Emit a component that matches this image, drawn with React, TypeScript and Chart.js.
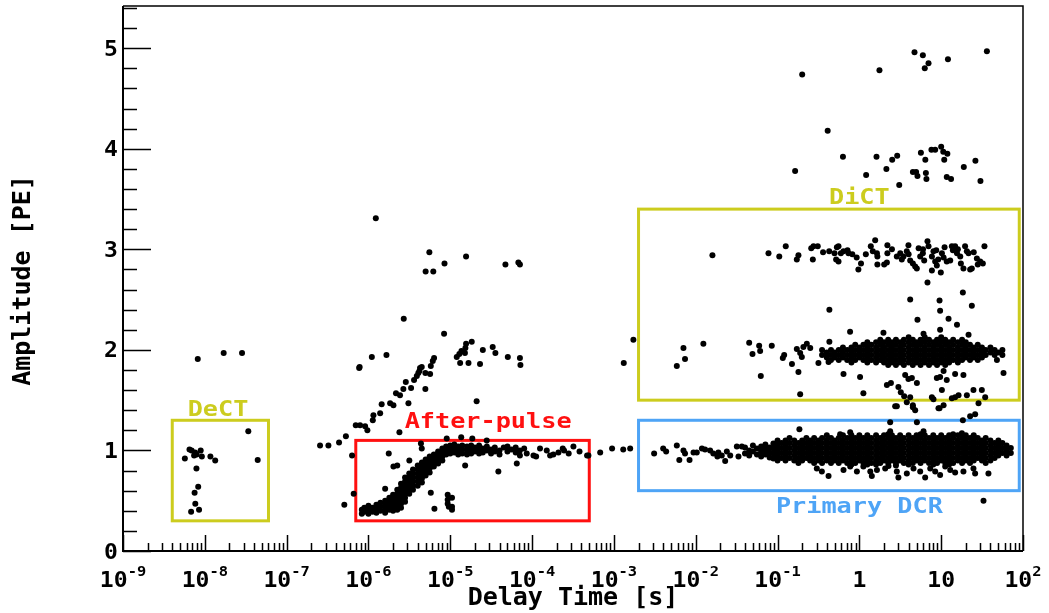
import { useEffect, useRef } from "react";
import { Chart, registerables } from "chart.js";

Chart.register(...registerables);

type Pt = [number, number];
type Column = [number, number[]];

// ---------- axes ----------
const X_MIN = 1e-9;
const X_MAX = 100;
const Y_MIN = 0;
const Y_MAX = 5.42;

const xMajorTicks = [1e-9, 1e-8, 1e-7, 1e-6, 1e-5, 1e-4, 1e-3, 1e-2, 1e-1, 1, 10, 100];
const xTickBase = ["10", "10", "10", "10", "10", "10", "10", "10", "10", "1", "10", "10"];
const xTickExp = ["-9", "-8", "-7", "-6", "-5", "-4", "-3", "-2", "-1", "", "", "2"];
const xMinorMantissas = [2, 3, 4, 5, 6, 7, 8, 9];
const yMajorTicks = [0, 1, 2, 3, 4, 5];
const yMinorStep = 0.2;

const xTitle = "Delay Time [s]";
const yTitle = "Amplitude [PE]";

// ---------- regions ----------
const regionNames = ["DeCT", "After-pulse", "DiCT", "Primary DCR"];
const regionXMin = [4e-9, 7e-7, 2e-3, 2e-3];
const regionXMax = [6e-8, 5e-4, 90, 90];
const regionYMin = [0.3, 0.3, 1.5, 0.6];
const regionYMax = [1.3, 1.1, 3.4, 1.3];
const regionLabelX = [1.45e-8, 2.9e-5, 1.0, 1.0];
const regionLabelY = [1.34, 1.22, 3.45, 0.38];
const regionColors = ["#cccc1e", "#ff1010", "#cccc1e", "#4ea4f6"];

// ---------- events: isolated points ----------
const deCtPoints: Pt[] = [
  [8.2e-9, 1.91], [1.7e-8, 1.97], [2.85e-8, 1.97], [3.4e-8, 1.19],
  [6.5e-9, 1.01], [6.9e-9, 1.0], [7.6e-9, 0.98], [7.4e-9, 0.95], [8.9e-9, 1.0],
  [9.2e-9, 0.94], [7.95e-9, 0.96], [5.7e-9, 0.92], [1.17e-8, 0.94], [1.34e-8, 0.9],
  [4.43e-8, 0.905], [7.9e-9, 0.82], [8.3e-9, 0.64], [7.5e-9, 0.58], [7.65e-9, 0.47],
  [6.8e-9, 0.39], [8.5e-9, 0.41],
];

const afterPulseScatter: Pt[] = [
  [2.56e-7, 1.05], [3.24e-7, 1.05], [4.37e-7, 1.08], [5.3e-7, 1.14], [6.3e-7, 0.95],
  [6.6e-7, 0.57], [5.07e-7, 0.46], [7e-7, 1.25], [7.7e-7, 1.82],
  [1.23e-6, 3.31], [5.55e-6, 2.97], [8.5e-6, 2.86], [1.56e-5, 2.93], [5.0e-6, 2.78],
  [6.2e-6, 2.78], [4.72e-5, 2.85], [6.8e-5, 2.87], [7.1e-5, 2.85], [2.7e-6, 2.31],
  [8.4e-6, 2.16], [1.1e-6, 1.93], [1.66e-6, 1.95], [7.8e-7, 1.83],
  [1.56e-5, 2.06], [1.83e-5, 2.08], [1.53e-5, 2.02], [1.37e-5, 1.99], [1.29e-5, 1.96],
  [1.2e-5, 1.93], [1.32e-5, 1.87], [1.67e-5, 1.87], [2.31e-5, 1.86], [2.5e-5, 2.0],
  [3.3e-5, 2.03], [3.56e-5, 1.97], [5.05e-5, 1.93], [7.1e-5, 1.92], [7.2e-5, 1.85],
  [1.51e-5, 1.97],
  [7.9e-7, 1.25], [9.1e-7, 1.24], [9.7e-7, 1.2], [1.13e-6, 1.3], [1.15e-6, 1.35],
  [1.39e-6, 1.37], [1.45e-6, 1.46], [1.84e-6, 1.47], [2.02e-6, 1.45], [2.17e-6, 1.57],
  [2.43e-6, 1.55], [2.67e-6, 1.61], [2.86e-6, 1.68], [3.08e-6, 1.47], [3.32e-6, 1.62],
  [3.61e-6, 1.7], [4.07e-6, 1.77], [4.27e-6, 1.82], [4.48e-6, 1.83], [4.96e-6, 1.77],
  [4.96e-6, 1.61], [5.67e-6, 1.76], [5.78e-6, 1.84], [6.11e-6, 1.89], [6.34e-6, 1.92],
  [4.2e-6, 1.79], [3.9e-6, 1.74], [2.1e-5, 1.49],
  [2.39e-6, 1.18], [4.38e-6, 1.07], [4.48e-6, 1.02], [9.05e-6, 1.12], [1.36e-5, 1.13],
  [1.86e-5, 1.12], [2.79e-5, 1.1], [1.77e-6, 0.97], [3.16e-6, 0.9], [2.02e-6, 0.84],
  [2.25e-6, 0.85], [1.6e-6, 0.62], [5.78e-6, 0.58], [6.4e-6, 0.42],
  [9.3e-6, 0.56], [9.3e-6, 0.51], [9.3e-6, 0.47], [1.05e-5, 0.44], [1.05e-5, 0.41],
  [1.05e-5, 0.53], [9.6e-6, 0.44],
  [3.87e-5, 0.79], [6.5e-5, 0.87], [1.52e-5, 0.85],
  [8.6e-5, 0.97], [1.04e-4, 0.95], [1.25e-4, 1.02], [1.51e-4, 1.0], [1.82e-4, 0.96],
  [2.37e-4, 1.02], [2.46e-4, 1.0], [3.2e-4, 1.04], [1.12e-4, 0.94], [1.66e-4, 0.95],
  [4.7e-4, 0.95], [2.8e-4, 0.97], [3.8e-4, 0.99], [2.1e-4, 0.98], [4.88e-4, 0.95],
  [6.8e-4, 0.98], [9.5e-4, 1.02], [1.3e-3, 1.01], [1.32e-3, 1.87], [1.73e-3, 2.1],
];

const highAmplitudePoints: Pt[] = [
  [4.72, 4.96], [5.97, 4.93], [7.0, 4.85], [6.3, 4.8], [12.1, 4.89], [36.2, 4.97],
  [0.2, 4.74], [1.76, 4.78], [0.41, 4.18], [0.164, 3.78], [0.63, 3.92], [1.62, 3.92],
  [2.52, 3.89], [2.9, 3.93], [2.14, 3.8], [1.21, 3.74], [3.07, 3.64], [4.51, 3.77],
  [4.94, 3.77], [5.13, 3.73], [5.65, 3.96], [6.4, 3.89], [6.5, 3.76], [6.6, 3.7],
  [7.6, 3.99], [8.45, 3.99], [10, 4.02], [10.6, 3.97], [11.9, 3.95], [10.9, 3.89],
  [11.7, 3.72], [13.2, 3.7], [18.9, 3.82], [26.2, 3.88], [30.2, 3.68],
];

const threePeRow: Pt[] = [
  [0.016, 2.94], [0.0775, 2.96], [0.105, 2.93], [0.126, 3.03], [0.172, 2.9], [0.18, 2.94],
  [0.258, 3.01], [0.275, 3.03], [0.31, 3.03], [0.27, 2.9], [0.428, 2.98], [0.497, 2.96],
  [0.531, 3.02], [0.556, 3.03], [0.594, 2.96], [0.64, 2.98], [0.716, 2.99], [0.736, 2.96],
  [0.52, 2.9], [0.556, 2.88], [0.927, 2.92], [1.047, 2.86], [0.973, 2.8], [1.38, 3.03],
  [1.56, 3.09], [1.46, 2.98], [1.64, 2.96], [1.66, 2.93], [1.66, 2.85], [2.01, 2.85],
  [2.17, 2.87], [2.2, 2.96], [2.2, 3.04], [2.87, 2.93], [3.16, 2.96], [3.46, 2.93],
  [3.98, 3.04], [3.8, 2.98], [4.18, 2.89], [4.51, 2.86], [4.81, 2.83], [5.04, 2.81],
  [5.54, 2.93], [5.97, 2.96], [6.2, 2.89], [6.8, 3.08], [7.0, 3.03], [7.7, 2.93],
  [8.05, 2.98], [8.7, 2.99], [8.45, 2.88], [8.85, 2.84], [7.7, 2.79], [9.9, 2.77],
  [10.2, 2.96], [10.7, 2.92], [11.7, 2.88], [13.5, 3.03], [14.8, 3.03], [15.6, 2.96],
  [17.1, 2.93], [17.4, 2.86], [18.7, 2.81], [20.6, 2.98], [21.6, 2.96], [22.6, 2.8],
  [23.7, 2.81], [27.3, 2.91], [32.3, 2.86], [33.8, 3.03], [19.6, 3.03], [13.9, 2.99],
  [12.9, 2.89], [2.5, 3.0], [3.3, 2.9], [4.0, 2.95], [5.3, 3.01], [6.0, 3.0], [9.2, 2.9],
  [11, 3.02], [16, 3.0], [25, 2.97], [28, 2.85], [30, 2.88], [1.2, 2.95], [0.36, 2.97],
  [0.82, 2.95],
];

const dictScatter: Pt[] = [
  [6.8, 2.67], [18.4, 2.57], [4.18, 2.5], [9.55, 2.49], [0.43, 2.4], [9.7, 2.39],
  [23.7, 2.44], [5.13, 2.3], [12.3, 2.31], [15.6, 2.25], [9.7, 2.2], [0.77, 2.18],
  [1.97, 2.17], [6.08, 2.16], [21.6, 2.15],
  [7.08e-3, 2.02], [7.4e-3, 1.91], [5.87e-3, 1.84], [0.0124, 2.06], [0.045, 2.07],
  [0.0494, 1.96], [0.0596, 2.04], [0.0613, 1.99], [0.085, 2.04], [0.0624, 1.74],
  [0.1205, 1.95], [0.116, 1.92], [0.15, 1.86], [0.172, 2.01], [0.18, 1.78],
  [0.189, 1.97], [0.198, 1.93], [0.207, 2.03], [0.228, 2.06], [0.251, 2.02],
  [0.189, 1.56], [0.316, 1.87], [0.43, 2.08],
  [3.63, 1.75], [3.98, 1.71], [4.38, 1.72], [5.05, 1.67], [2.17, 1.65], [2.43, 1.67],
  [3.0, 1.63], [3.21, 1.58], [3.53, 1.54], [3.8, 1.48], [4.18, 1.53], [4.51, 1.45],
  [4.81, 1.4], [2.87, 1.44], [1.12, 1.57], [1.02, 1.73], [0.64, 1.76], [0.42, 1.88],
  [8.85, 1.72], [9.7, 1.73], [10.7, 1.79], [11.7, 1.7], [14.8, 1.76], [10.2, 1.6],
  [13.5, 1.52], [14.8, 1.53], [16.3, 1.55], [20.6, 1.55], [24.8, 1.6], [31.4, 1.6],
  [34.5, 1.53], [28.6, 1.47], [18.7, 1.75], [57.8, 1.77], [48, 1.9], [7.7, 1.53],
  [8.05, 1.51], [9.27, 1.42], [10.7, 1.45],
  [2.74, 1.44], [4.51, 1.43], [9.55, 1.42], [18.4, 1.3], [22.6, 1.34], [26, 1.36],
  [2.38, 1.28], [5.05, 1.28],
];

const primaryDcrScatter: Pt[] = [
  [1.58e-3, 1.02], [3.1e-3, 0.97], [4.0e-3, 1.02], [4.35e-3, 0.99], [5.87e-3, 1.05],
  [6.3e-3, 0.905], [7.08e-3, 1.0], [7.4e-3, 0.97], [8.4e-3, 0.905], [9.4e-3, 0.98],
  [0.0103, 0.98], [0.0119, 1.02], [0.013, 1.01], [0.015, 1.0], [0.0164, 0.97],
  [0.0184, 0.94], [0.0189, 0.98], [0.0208, 0.95], [0.0229, 0.895], [0.024, 0.99],
  [0.0264, 0.95], [0.0318, 1.04], [0.0333, 0.94], [0.0366, 1.04],
  [0.185, 1.21], [0.582, 1.16], [0.773, 1.18], [2.38, 1.19], [6.08, 1.19], [17.9, 1.17],
  [24.8, 1.14],
  [0.302, 0.82], [0.348, 0.79], [0.42, 0.745], [0.64, 0.805], [0.773, 0.84], [0.933, 0.79],
  [1.12, 0.84], [1.36, 0.79], [1.42, 0.745], [1.64, 0.805], [2.07, 0.82], [2.27, 0.845],
  [2.87, 0.79], [3.0, 0.73], [3.8, 0.77], [4.59, 0.82], [5.54, 0.79], [6.37, 0.73],
  [7.35, 0.82], [8.45, 0.79], [9.7, 0.755], [11.2, 0.84], [12.9, 0.805], [14.8, 0.78],
  [18.7, 0.79], [24.8, 0.82], [26, 0.77], [37.8, 0.77], [32.9, 0.5],
];

// ---------- events: dense bands, listed per delay column ----------
const afterPulseColumns: Column[] = [
  [8.3e-7, [0.41, 0.37]], [8.9e-7, [0.43, 0.39]], [1.0e-6, [0.45, 0.41, 0.37]],
  [1.12e-6, [0.43, 0.39]], [1.25e-6, [0.46, 0.42, 0.38]], [1.4e-6, [0.48, 0.44, 0.4]],
  [1.6e-6, [0.5, 0.46, 0.42, 0.38]], [1.8e-6, [0.53, 0.49, 0.45, 0.41]],
  [2.0e-6, [0.56, 0.52, 0.48, 0.44, 0.4]], [2.25e-6, [0.61, 0.57, 0.53, 0.49, 0.45, 0.41]],
  [2.5e-6, [0.67, 0.63, 0.59, 0.55, 0.51, 0.47, 0.43]],
  [2.8e-6, [0.73, 0.69, 0.65, 0.61, 0.57, 0.53, 0.49]],
  [3.15e-6, [0.77, 0.73, 0.69, 0.65, 0.61, 0.57]], [3.5e-6, [0.81, 0.77, 0.73, 0.69, 0.65, 0.61]],
  [4.0e-6, [0.85, 0.81, 0.77, 0.73, 0.69, 0.65]], [4.5e-6, [0.88, 0.84, 0.8, 0.76, 0.72, 0.68]],
  [5.0e-6, [0.91, 0.87, 0.83, 0.79, 0.75]], [5.6e-6, [0.94, 0.9, 0.86, 0.82, 0.78]],
  [6.3e-6, [0.96, 0.92, 0.88, 0.84]], [7.1e-6, [0.99, 0.95, 0.91, 0.87]],
  [8.0e-6, [1.02, 0.98, 0.94, 0.9]], [8.9e-6, [1.04, 1.0, 0.96]], [1.0e-5, [1.05, 1.01, 0.97]],
  [1.12e-5, [1.06, 1.02, 0.98]], [1.25e-5, [1.04, 1.0, 0.96]], [1.4e-5, [1.05, 1.01, 0.97]],
  [1.6e-5, [1.04, 1.0, 0.96]], [1.8e-5, [1.05, 1.01, 0.97]], [2.0e-5, [1.03, 0.99]],
  [2.25e-5, [1.05, 1.01, 0.97]], [2.5e-5, [1.02, 0.98]], [2.8e-5, [1.04, 1.0]],
  [3.15e-5, [1.01, 0.97]], [3.5e-5, [1.03, 0.99]], [4.0e-5, [1.0, 0.96]], [4.5e-5, [1.03]],
  [5.0e-5, [0.99, 1.04]], [5.6e-5, [1.01]], [6.3e-5, [0.98, 1.03]], [7.1e-5, [1.0, 0.95]],
  [8.0e-5, [1.02]],
];

const dictColumns: Column[] = [
  [0.35, [2.0, 1.95]], [0.4, [1.975, 1.925]], [0.45, [2.0, 1.95, 1.9]], [0.5, [1.975, 1.925]],
  [0.56, [2.0, 1.95, 1.9]], [0.63, [2.025, 1.975, 1.925]], [0.71, [2.0, 1.95, 1.9]],
  [0.8, [2.025, 1.975, 1.925, 1.875]], [0.89, [2.05, 2.0, 1.95, 1.9]],
  [1.0, [2.025, 1.975, 1.925]], [1.12, [2.05, 2.0, 1.95, 1.9]],
  [1.25, [2.075, 2.025, 1.975, 1.925, 1.875]], [1.4, [2.05, 2.0, 1.95, 1.9]],
  [1.6, [2.075, 2.025, 1.975, 1.925, 1.875]], [1.8, [2.1, 2.05, 2.0, 1.95, 1.9]],
  [2.0, [2.075, 2.025, 1.975, 1.925, 1.875]], [2.25, [2.1, 2.05, 2.0, 1.95, 1.9, 1.85]],
  [2.5, [2.075, 2.025, 1.975, 1.925, 1.875]], [2.8, [2.1, 2.05, 2.0, 1.95, 1.9, 1.85]],
  [3.15, [2.075, 2.025, 1.975, 1.925, 1.875]], [3.5, [2.1, 2.05, 2.0, 1.95, 1.9, 1.85]],
  [4.0, [2.125, 2.075, 2.025, 1.975, 1.925, 1.875]], [4.5, [2.1, 2.05, 2.0, 1.95, 1.9, 1.85]],
  [5.0, [2.075, 2.025, 1.975, 1.925, 1.875]], [5.6, [2.1, 2.05, 2.0, 1.95, 1.9, 1.85]],
  [6.3, [2.125, 2.075, 2.025, 1.975, 1.925, 1.875]], [7.1, [2.1, 2.05, 2.0, 1.95, 1.9, 1.85]],
  [8.0, [2.075, 2.025, 1.975, 1.925, 1.875]], [8.9, [2.1, 2.05, 2.0, 1.95, 1.9, 1.85]],
  [10, [2.125, 2.075, 2.025, 1.975, 1.925, 1.875]], [11.2, [2.1, 2.05, 2.0, 1.95, 1.9, 1.85]],
  [12.5, [2.075, 2.025, 1.975, 1.925, 1.875]], [14, [2.1, 2.05, 2.0, 1.95, 1.9]],
  [16, [2.075, 2.025, 1.975, 1.925, 1.875]], [18, [2.1, 2.05, 2.0, 1.95, 1.9]],
  [20, [2.075, 2.025, 1.975, 1.925]], [22.5, [2.05, 2.0, 1.95, 1.9]],
  [25, [2.025, 1.975, 1.925]], [28, [2.05, 2.0, 1.95, 1.9]], [31.5, [2.025, 1.975, 1.925]],
  [35, [2.0, 1.95]], [40, [2.025, 1.975]], [45, [2.0, 1.95]], [50, [1.975]], [56, [1.95, 2.0]],
];

const primaryDcrColumns: Column[] = [
  [0.04, [1.03, 0.97]], [0.045, [1.0, 0.95]], [0.05, [1.05, 0.99]], [0.056, [1.02, 0.96]],
  [0.063, [1.04, 0.99, 0.94]], [0.071, [1.06, 1.01, 0.96]], [0.08, [1.03, 0.98, 0.93]],
  [0.089, [1.07, 1.02, 0.97, 0.92]],
  [0.1, [1.1, 1.05, 1.0, 0.95, 0.9]], [0.112, [1.075, 1.025, 0.975, 0.925]],
  [0.125, [1.1, 1.05, 1.0, 0.95, 0.9]], [0.14, [1.125, 1.075, 1.025, 0.975, 0.925]],
  [0.16, [1.1, 1.05, 1.0, 0.95, 0.9]], [0.18, [1.075, 1.025, 0.975, 0.925, 0.875]],
  [0.2, [1.1, 1.05, 1.0, 0.95, 0.9]], [0.225, [1.125, 1.075, 1.025, 0.975, 0.925]],
  [0.25, [1.1, 1.05, 1.0, 0.95, 0.9]], [0.28, [1.125, 1.075, 1.025, 0.975, 0.925, 0.875]],
  [0.315, [1.1, 1.05, 1.0, 0.95, 0.9]], [0.35, [1.125, 1.075, 1.025, 0.975, 0.925, 0.875]],
  [0.4, [1.15, 1.1, 1.05, 1.0, 0.95, 0.9]], [0.45, [1.125, 1.075, 1.025, 0.975, 0.925, 0.875]],
  [0.5, [1.1, 1.05, 1.0, 0.95, 0.9]], [0.56, [1.125, 1.075, 1.025, 0.975, 0.925, 0.875]],
  [0.63, [1.15, 1.1, 1.05, 1.0, 0.95, 0.9]], [0.71, [1.125, 1.075, 1.025, 0.975, 0.925, 0.875]],
  [0.8, [1.15, 1.1, 1.05, 1.0, 0.95, 0.9, 0.86]], [0.89, [1.125, 1.075, 1.025, 0.975, 0.925, 0.875]],
  [1.0, [1.15, 1.1, 1.05, 1.0, 0.95, 0.9]], [1.12, [1.125, 1.075, 1.025, 0.975, 0.925, 0.875]],
  [1.25, [1.15, 1.1, 1.05, 1.0, 0.95, 0.9, 0.86]], [1.4, [1.125, 1.075, 1.025, 0.975, 0.925, 0.875]],
  [1.6, [1.15, 1.1, 1.05, 1.0, 0.95, 0.9, 0.86]], [1.8, [1.125, 1.075, 1.025, 0.975, 0.925, 0.875]],
  [2.0, [1.15, 1.1, 1.05, 1.0, 0.95, 0.9]], [2.25, [1.16, 1.125, 1.075, 1.025, 0.975, 0.925, 0.875]],
  [2.5, [1.15, 1.1, 1.05, 1.0, 0.95, 0.9]], [2.8, [1.125, 1.075, 1.025, 0.975, 0.925, 0.875, 0.85]],
  [3.15, [1.15, 1.1, 1.05, 1.0, 0.95, 0.9]], [3.5, [1.125, 1.075, 1.025, 0.975, 0.925, 0.875]],
  [4.0, [1.15, 1.1, 1.05, 1.0, 0.95, 0.9, 0.86]], [4.5, [1.125, 1.075, 1.025, 0.975, 0.925, 0.875]],
  [5.0, [1.15, 1.1, 1.05, 1.0, 0.95, 0.9]], [5.6, [1.16, 1.125, 1.075, 1.025, 0.975, 0.925, 0.875]],
  [6.3, [1.15, 1.1, 1.05, 1.0, 0.95, 0.9]], [7.1, [1.125, 1.075, 1.025, 0.975, 0.925, 0.875]],
  [8.0, [1.15, 1.1, 1.05, 1.0, 0.95, 0.9, 0.86]], [8.9, [1.125, 1.075, 1.025, 0.975, 0.925, 0.875]],
  [10, [1.15, 1.1, 1.05, 1.0, 0.95, 0.9]], [11.2, [1.125, 1.075, 1.025, 0.975, 0.925, 0.875]],
  [12.5, [1.15, 1.1, 1.05, 1.0, 0.95, 0.9, 0.86]], [14, [1.16, 1.125, 1.075, 1.025, 0.975, 0.925, 0.875]],
  [16, [1.15, 1.1, 1.05, 1.0, 0.95, 0.9]], [18, [1.125, 1.075, 1.025, 0.975, 0.925, 0.875]],
  [20, [1.15, 1.1, 1.05, 1.0, 0.95, 0.9]], [22.5, [1.125, 1.075, 1.025, 0.975, 0.925, 0.875]],
  [25, [1.15, 1.1, 1.05, 1.0, 0.95, 0.9]], [28, [1.125, 1.075, 1.025, 0.975, 0.925]],
  [31.5, [1.1, 1.05, 1.0, 0.95, 0.9]], [35, [1.125, 1.075, 1.025, 0.975, 0.925, 0.875]],
  [40, [1.1, 1.05, 1.0, 0.95, 0.9]], [45, [1.075, 1.025, 0.975, 0.925]],
  [50, [1.1, 1.05, 1.0, 0.95]], [56, [1.075, 1.025, 0.975]], [63, [1.05, 1.0, 0.95]],
  [71, [1.025, 0.975]],
];

// ---------- styling ----------
const MONO = '"DejaVu Sans Mono", monospace';
const INK = "#000000";
const DOT_RADIUS = 3;

const expandColumns = (cols: Column[]): Pt[] =>
  cols.flatMap(([x, ys]) => ys.map((y) => [x, y] as Pt));

const allEvents: Pt[] = [
  ...deCtPoints,
  ...afterPulseScatter,
  ...expandColumns(afterPulseColumns),
  ...highAmplitudePoints,
  ...threePeRow,
  ...dictScatter,
  ...expandColumns(dictColumns),
  ...primaryDcrScatter,
  ...expandColumns(primaryDcrColumns),
];

// text with an optional horizontal stretch; returns drawn width
function stretchedText(
  ctx: CanvasRenderingContext2D,
  text: string,
  x: number,
  y: number,
  font: string,
  sx: number,
  align: "left" | "center" | "right"
) {
  ctx.save();
  ctx.font = font;
  ctx.textBaseline = "alphabetic";
  ctx.textAlign = "left";
  const w = ctx.measureText(text).width * sx;
  let start = x;
  if (align === "center") start = x - w / 2;
  if (align === "right") start = x - w;
  ctx.translate(start, y);
  ctx.scale(sx, 1);
  ctx.fillText(text, 0, 0);
  ctx.restore();
  return w;
}

const regionPlugin = {
  id: "regions",
  beforeDatasetsDraw(chart: any) {
    const { ctx, scales } = chart;
    const xs = scales.x;
    const ys = scales.y;
    ctx.save();
    regionNames.forEach((name, i) => {
      const x0 = xs.getPixelForValue(regionXMin[i]);
      const x1 = xs.getPixelForValue(regionXMax[i]);
      const y0 = ys.getPixelForValue(regionYMax[i]);
      const y1 = ys.getPixelForValue(regionYMin[i]);
      ctx.strokeStyle = regionColors[i];
      ctx.lineWidth = 3;
      ctx.strokeRect(x0, y0, x1 - x0, y1 - y0);
      ctx.fillStyle = regionColors[i];
      stretchedText(
        ctx,
        name,
        xs.getPixelForValue(regionLabelX[i]),
        ys.getPixelForValue(regionLabelY[i]),
        `bold 21px ${MONO}`,
        1.2,
        "center"
      );
    });
    ctx.restore();
  },
};

const framePlugin = {
  id: "frame",
  afterDatasetsDraw(chart: any) {
    const { ctx, chartArea, scales } = chart;
    const { left, right, top, bottom } = chartArea;
    const xs = scales.x;
    const ys = scales.y;
    ctx.save();
    ctx.strokeStyle = INK;
    ctx.fillStyle = INK;

    // frame
    ctx.lineWidth = 1.5;
    ctx.beginPath();
    ctx.moveTo(left, top);
    ctx.lineTo(right, top);
    ctx.lineTo(right, bottom);
    ctx.stroke();
    ctx.lineWidth = 2;
    ctx.beginPath();
    ctx.moveTo(left, top);
    ctx.lineTo(left, bottom);
    ctx.lineTo(right, bottom);
    ctx.stroke();

    // x ticks (inside the frame)
    ctx.lineWidth = 1.5;
    ctx.beginPath();
    xMajorTicks.forEach((v, i) => {
      const px = Math.round(xs.getPixelForValue(v)) + 0.5;
      ctx.moveTo(px, bottom);
      ctx.lineTo(px, bottom - 16);
      if (i < xMajorTicks.length - 1) {
        xMinorMantissas.forEach((m) => {
          const mx = Math.round(xs.getPixelForValue(m * v)) + 0.5;
          ctx.moveTo(mx, bottom);
          ctx.lineTo(mx, bottom - 8);
        });
      }
    });
    ctx.stroke();

    // y ticks
    ctx.beginPath();
    for (let k = 0; k * yMinorStep <= Y_MAX + 1e-9; k++) {
      const v = k * yMinorStep;
      const py = Math.round(ys.getPixelForValue(v)) + 0.5;
      const major = yMajorTicks.some((t) => Math.abs(t - v) < 1e-6);
      ctx.moveTo(left, py);
      ctx.lineTo(left + (major ? 28 : 14), py);
    }
    ctx.stroke();

    // x tick labels: base with superscript exponent
    xMajorTicks.forEach((v, i) => {
      const px = xs.getPixelForValue(v);
      ctx.font = `bold 21px ${MONO}`;
      const wb = ctx.measureText(xTickBase[i]).width * 1.1;
      ctx.font = `bold 14px ${MONO}`;
      const we = xTickExp[i] ? ctx.measureText(xTickExp[i]).width * 1.1 : 0;
      const start = px - (wb + we) / 2;
      stretchedText(ctx, xTickBase[i], start, bottom + 36, `bold 21px ${MONO}`, 1.1, "left");
      if (xTickExp[i]) {
        stretchedText(ctx, xTickExp[i], start + wb, bottom + 25, `bold 14px ${MONO}`, 1.1, "left");
      }
    });

    // y tick labels
    yMajorTicks.forEach((v) => {
      const py = ys.getPixelForValue(v);
      stretchedText(ctx, String(v), left - 5, py + 7.5, `bold 21px ${MONO}`, 1.1, "right");
    });

    // axis titles
    stretchedText(ctx, xTitle, (left + right) / 2, bottom + 54, `bold 25px ${MONO}`, 1.0, "center");
    ctx.save();
    ctx.translate(30, (top + bottom) / 2 + 2);
    ctx.rotate(-Math.PI / 2);
    stretchedText(ctx, yTitle, 0, 0, `bold 25px ${MONO}`, 1.0, "center");
    ctx.restore();

    ctx.restore();
  },
};

export default function App() {
  const canvasRef = useRef<HTMLCanvasElement>(null);

  useEffect(() => {
    const canvas = canvasRef.current;
    if (!canvas) return;
    const chart = new Chart(canvas, {
      type: "scatter",
      data: {
        datasets: [
          {
            data: allEvents.map(([x, y]) => ({ x, y })),
            pointRadius: DOT_RADIUS,
            pointHoverRadius: DOT_RADIUS,
            pointBackgroundColor: INK,
            pointBorderWidth: 0,
            showLine: false,
          },
        ],
      },
      options: {
        animation: false,
        responsive: false,
        devicePixelRatio: 1,
        events: [],
        layout: { padding: { left: 123, right: 26, top: 6, bottom: 62 } },
        scales: {
          x: { type: "logarithmic", min: X_MIN, max: X_MAX, display: false },
          y: { type: "linear", min: Y_MIN, max: Y_MAX, display: false, bounds: "data" },
        },
        plugins: {
          legend: { display: false },
          tooltip: { enabled: false },
        },
      },
      plugins: [regionPlugin, framePlugin],
    });
    return () => chart.destroy();
  }, []);

  return (
    <div style={{ position: "absolute", left: 0, top: 0, width: 1049, height: 613, background: "#ffffff" }}>
      <canvas ref={canvasRef} width={1049} height={613} style={{ display: "block", width: 1049, height: 613 }} />
    </div>
  );
}
